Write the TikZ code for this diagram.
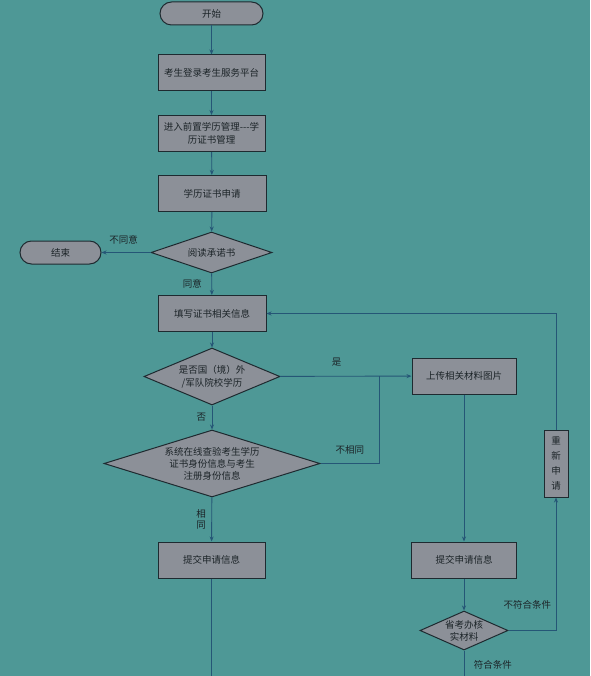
\documentclass[tikz,border=0pt]{standalone}
\usepackage{fontspec}
\setmainfont{Noto Sans CJK SC}
\usetikzlibrary{shapes.geometric,arrows.meta}
\definecolor{bgteal}{HTML}{4E9896}
\definecolor{boxgray}{HTML}{8C9098}
\definecolor{edgedark}{HTML}{1E2A30}
\definecolor{flowline}{HTML}{255676}
\definecolor{txtdark}{HTML}{1C2428}
\begin{document}
\begin{tikzpicture}[x=1pt,y=-1pt,
	every node/.style={font=\fontsize{9.5}{13}\selectfont, text=txtdark},
	stepbox/.style={draw=edgedark, fill=boxgray, line width=1pt, minimum width=107pt, minimum height=36pt, inner sep=1pt, align=center},
	termbox/.style={draw=edgedark, fill=boxgray, line width=1pt, rounded corners=11.5pt, minimum height=23pt},
	choice/.style={diamond, draw=edgedark, fill=boxgray, line width=1pt, inner sep=0pt, align=center},
	flow/.style={draw=flowline, line width=0.9pt},
	tip/.style={-{Stealth[length=5pt,width=4pt]}}]
			\useasboundingbox (0,0) rectangle (590,676);
			\fill[bgteal] (0,0) rectangle (590,676);
			%\draw [help lines] (0,0) grid (590,676);
			\node[termbox, minimum width=103pt] (start) at (211.5,13.5) {开始};
			\node[stepbox] (login) at (211.5,73) {考生登录考生服务平台};
			\node[stepbox] (enter) at (211.5,133.5) {进入前置学历管理-{}-{}-学\\历证书管理};
			\node[stepbox, minimum width=108pt] (apply) at (212,193.5) {学历证书申请};
			\node[choice, minimum width=121pt, minimum height=41pt, aspect=3] (read) at (211.5,252.5) {阅读承诺书};
			\node[termbox, minimum width=81pt] (finish) at (60.5,252.5) {结束};
			\node[stepbox, minimum width=108pt] (fill) at (212,313.5) {填写证书相关信息};
			\node[choice, minimum width=136pt, minimum height=57pt, aspect=2.4] (abroad) at (212,376.5) {是否国（境）外\\/军队院校学历};
			\node[stepbox, minimum width=104pt] (upload) at (464,376) {上传相关材料图片};
			\node[choice, minimum width=216pt, minimum height=67pt, aspect=3.2, font=\fontsize{9.5}{12}\selectfont] (verify) at (212,463.5) {系统在线查验考生学历\\证书身份信息与考生\\注册身份信息};
			\node[stepbox] (submitl) at (211.5,560) {提交申请信息};
			\node[stepbox, minimum width=105pt] (submitr) at (464,560) {提交申请信息};
			\node[choice, minimum width=88pt, minimum height=39pt, aspect=2.2, font=\fontsize{9.5}{12}\selectfont] (check) at (464,630.5) {省考办核\\实材料};
			\node[stepbox, minimum width=24pt, minimum height=67pt, text width=12pt, font=\fontsize{9.5}{15}\selectfont] (again) at (556,463.5) {重\\新\\申\\请};
			\coordinate (join) at (379,463.5);
			\coordinate (loop) at (556,313.5);
			\coordinate (bottoml) at (211.5,676);
			\coordinate (bottomr) at (464,676);
			\coordinate (turn) at (556,630.5);
			\draw[flow, tip] (start) -- (login);
			\draw[flow, tip] (login) -- (enter);
			\draw[flow, tip] (enter) -- (apply);
			\draw[flow, tip] (apply) -- (read);
			\draw[flow, tip] (read) -- node[above, pos=0.55, yshift=4pt] {不同意} (finish);
			\draw[flow, tip] (read) -- node[left, xshift=-6pt] {同意} (fill);
			\draw[flow, tip] (fill) -- (abroad);
			\draw[flow, tip] (abroad) -- node[above, pos=0.43, yshift=6pt] {是} (upload);
			\draw[flow, tip] (abroad) -- node[left, xshift=-2pt] {否} (verify);
			\draw[flow] (verify) -- node[above, yshift=5pt] {不相同} (join) -- (join |- upload);
			\draw[flow, tip] (verify) -- node[left, xshift=-2pt, align=center, font=\fontsize{9.5}{11.5}\selectfont] {相\\同} (submitl);
			\draw[flow] (submitl) -- (bottoml);
			\draw[flow, tip] (upload) -- (submitr);
			\draw[flow, tip] (submitr) -- (check);
			\draw[flow, tip] (check) -- (turn) -- node[above left, pos=0.1, xshift=-1pt, yshift=4pt] {不符合条件} (again);
			\draw[flow, tip] (again) -- (loop) -- (fill);
			\draw[flow] (check) -- node[right, xshift=6pt, pos=0.55] {符合条件} (bottomr);
		\end{tikzpicture}
\end{document}
